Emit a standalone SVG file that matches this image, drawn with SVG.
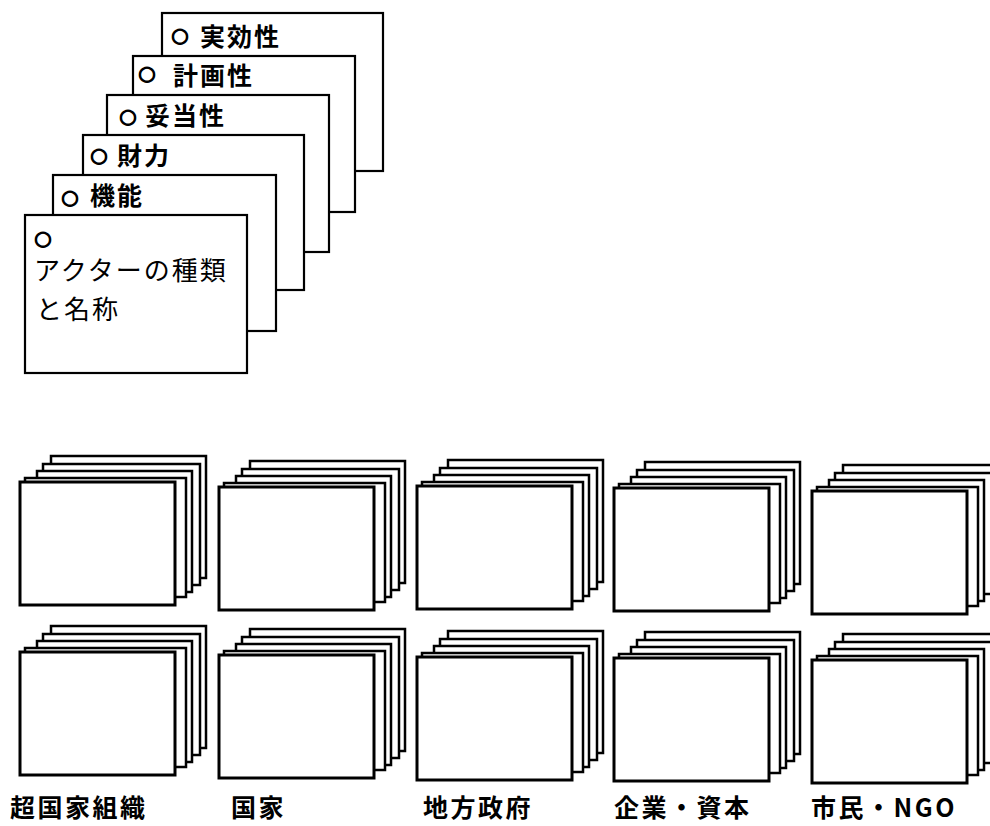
<svg xmlns="http://www.w3.org/2000/svg" xmlns:xlink="http://www.w3.org/1999/xlink" width="990" height="826" viewBox="0 0 990 826">
<style>
  .card { fill: #fff; stroke: #000; stroke-width: 2.2; }
  .bcard { fill: #fff; stroke: #000; stroke-width: 2.5; }
  .front { fill: #fff; stroke: #000; stroke-width: 3; }
  .t { font-family: "Noto Sans CJK JP", "Noto Sans", sans-serif; font-size: 25px; font-weight: 700; letter-spacing: 2px; fill: #000; }
  .tn { font-family: "Noto Sans CJK JP", "Noto Sans", sans-serif; font-size: 26px; font-weight: 400; letter-spacing: 2px; fill: #000; }
  .bul { font-family: "DejaVu Sans", sans-serif; font-size: 20px; font-weight: 700; fill: #000; stroke: #000; stroke-width: 1.2; text-anchor: middle; }
  .lab { font-family: "Noto Sans CJK JP", "Noto Sans", sans-serif; font-size: 25px; font-weight: 700; letter-spacing: 2.5px; fill: #000; }
</style>
<defs>
  <g id="stack">
    <rect class="bcard" x="31" y="-26" width="155" height="122"/>
    <rect class="bcard" x="23" y="-18" width="157" height="121"/>
    <rect class="bcard" x="17" y="-11" width="155" height="121"/>
    <rect class="bcard" x="5" y="-4" width="161" height="119"/>
    <rect class="front" x="0" y="0" width="155" height="123"/>
  </g>
</defs>
<rect width="990" height="826" fill="#fff"/>

<g id="card-jikkousei">
  <rect class="card" x="162" y="13" width="221" height="158"/>
  <text class="bul" x="180" y="42">○</text>
  <text class="t" x="200" y="46">実効性</text>
</g>
<g id="card-keikakusei">
  <rect class="card" x="133" y="56" width="222" height="156"/>
  <text class="bul" x="147" y="80">○</text>
  <text class="t" x="173" y="85">計画性</text>
</g>
<g id="card-datousei">
  <rect class="card" x="107" y="95" width="222" height="157"/>
  <text class="bul" x="128" y="123">○</text>
  <text class="t" x="145" y="125">妥当性</text>
</g>
<g id="card-zairyoku">
  <rect class="card" x="83" y="135" width="221" height="155"/>
  <text class="bul" x="99" y="162">○</text>
  <text class="t" x="117" y="165">財力</text>
</g>
<g id="card-kinou">
  <rect class="card" x="53" y="175" width="223" height="156"/>
  <text class="bul" x="70" y="204">○</text>
  <text class="t" x="90" y="205">機能</text>
</g>
<g id="card-actor">
  <rect class="card" x="25" y="215" width="222" height="158"/>
  <text class="bul" x="43" y="245">○</text>
  <text class="tn" x="34" y="280">アクターの種類</text>
  <text class="tn" x="36" y="319">と名称</text>
</g>

<g id="stack-r1-c1"><use xlink:href="#stack" href="#stack" x="20" y="482"/></g>
<g id="stack-r1-c2"><use xlink:href="#stack" href="#stack" x="219" y="487"/></g>
<g id="stack-r1-c3"><use xlink:href="#stack" href="#stack" x="417" y="486"/></g>
<g id="stack-r1-c4"><use xlink:href="#stack" href="#stack" x="614" y="488"/></g>
<g id="stack-r1-c5"><use xlink:href="#stack" href="#stack" x="812" y="491"/></g>

<g id="stack-r2-c1"><use xlink:href="#stack" href="#stack" x="20" y="652"/></g>
<g id="stack-r2-c2"><use xlink:href="#stack" href="#stack" x="219" y="655"/></g>
<g id="stack-r2-c3"><use xlink:href="#stack" href="#stack" x="417" y="657"/></g>
<g id="stack-r2-c4"><use xlink:href="#stack" href="#stack" x="614" y="658"/></g>
<g id="stack-r2-c5"><use xlink:href="#stack" href="#stack" x="812" y="660"/></g>

<g id="connectors"></g>

<g id="label-supranational"><text class="lab" x="10" y="817">超国家組織</text></g>
<g id="label-state"><text class="lab" x="231" y="817">国家</text></g>
<g id="label-local"><text class="lab" x="423" y="817">地方政府</text></g>
<g id="label-business"><text class="lab" x="614" y="817">企業・資本</text></g>
<g id="label-citizen"><text class="lab" x="811" y="817">市民・NGO</text></g>
</svg>
